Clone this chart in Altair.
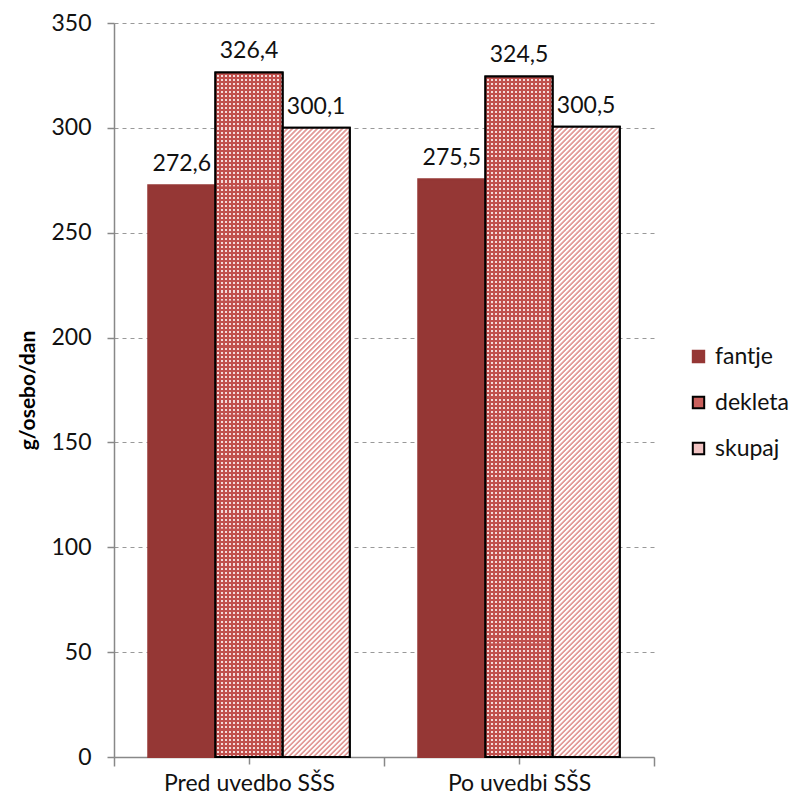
import altair as alt
import pandas as pd

categories = ["Pred uvedbo SŠS", "Po uvedbi SŠS"]
series = ["fantje", "dekleta", "skupaj"]
fantje = [272.6, 275.5]
dekleta = [326.4, 324.5]
skupaj = [300.1, 300.5]
y_ticks = [0, 50, 100, 150, 200, 250, 300, 350]

rows = []
for i, c in enumerate(categories):
    for s, vals in zip(series, [fantje, dekleta, skupaj]):
        rows.append({"cat": c, "series": s, "value": vals[i],
                     "label": f"{vals[i]:.1f}".replace(".", ",")})
df = pd.DataFrame(rows)

# split patterned bars into K equal stacked pieces (keeps gradients short)
K = 6
seg_rows = []
for r in rows:
    if r["series"] == "fantje":
        continue
    for j in range(K):
        seg_rows.append({"cat": r["cat"], "series": r["series"],
                         "y0": r["value"] * j / K, "y1": r["value"] * (j + 1) / K})
seg = pd.DataFrame(seg_rows)

W, H = 540, 734
YMAX = 350
OUTER = 0.51
FONT = "Lato"
FS = 23
step = W / 2 / (3 + 2 * OUTER)

RED_DARK = "#953735"
RED = "#C0504D"
PINK = "#E39C9A"


def stop_list(n, c1, c2, frac=0.5):
    stops = []
    for i in range(n):
        o0, o1, o2 = i / n, (i + frac) / n, (i + 1) / n
        stops += [{"offset": o0, "color": c1}, {"offset": o1, "color": c1},
                  {"offset": o1, "color": c2}, {"offset": min(o2, 1.0), "color": c2}]
    return stops


def soft_stop_list(n, c1, c2):
    stops = []
    for i in range(n):
        for f, c in [(0.0, c1), (0.3, c1), (0.5, c2), (0.8, c2)]:
            stops.append({"offset": (i + f) / n, "color": c})
    stops.append({"offset": 1.0, "color": c1})
    return stops


def diag_stripes(w, h, period, c1, c2):
    n = int((w + h) // period) + 1
    span = n * period
    k = span / (h * (1 + (w / h) ** 2))
    return {"gradient": "linear", "x1": 0, "y1": 0, "x2": k * w / h, "y2": k,
            "stops": soft_stop_list(n, c1, c2)}


def straight_stripes(n, c1, c2, vertical):
    return {"gradient": "linear", "x1": 0, "y1": 0,
            "x2": 1 if vertical else 0, "y2": 0 if vertical else 1,
            "stops": stop_list(n, c1, c2, 0.5)}


hs_sk = sum(skupaj) / len(skupaj) / YMAX * H / K
hs_dk = sum(dekleta) / len(dekleta) / YMAX * H / K

skupaj_fill = diag_stripes(step, hs_sk, 5.0, PINK, "#FFFFFF")
dots_v = straight_stripes(int(round(step / 4.0)), RED, "#F4DADA", True)
dots_h = straight_stripes(int(round(hs_dk / 4.0)), RED, "transparent", False)

x_scale = alt.Scale(domain=categories, paddingInner=0, paddingOuter=0)
xo_scale = alt.Scale(domain=series, paddingInner=0, paddingOuter=OUTER)
y_scale = alt.Scale(domain=[0, YMAX], nice=False)

x_axis = alt.Axis(title=None, orient="bottom", tickBand="extent", tickSize=9,
                  labelPadding=6, labelFontSize=FS, labelFont=FONT, labelColor="#111",
                  domainColor="#888", tickColor="#888", domainWidth=1.5, tickWidth=1.5,
                  labelAngle=0, grid=False)
x_axis2 = alt.Axis(title=None, orient="bottom", labels=False, domain=False, tickSize=7,
                   tickColor="#888", tickWidth=1.5, grid=False)
y_axis = alt.Axis(title="g/osebo/dan", values=y_ticks, tickSize=7, labelPadding=16,
                  labelFontSize=FS, labelFont=FONT, labelColor="#111",
                  titleFont=FONT, titleFontSize=21, titleFontWeight="bold",
                  titleColor="#000", titlePadding=12,
                  domainColor="#888", tickColor="#888", domainWidth=1.5, tickWidth=1.5,
                  grid=True, gridColor="#999", gridDash=[4, 4], gridWidth=1)

base = alt.Chart(df)
segbase = alt.Chart(seg)
X = alt.X("cat:N", scale=x_scale, sort=categories, axis=x_axis)
XN = alt.X("cat:N", scale=x_scale, sort=categories, axis=None)
XO = alt.XOffset("series:N", scale=xo_scale, sort=series)
Y = alt.Y("value:Q", scale=y_scale, axis=y_axis)
YS = alt.Y("y0:Q", scale=y_scale, axis=y_axis)

legend = alt.Legend(title=None, orient="none", legendX=573, legendY=322,
                    symbolType="square", symbolSize=130, symbolStrokeWidth=2,
                    labelFontSize=FS, labelFont=FONT, labelColor="#111",
                    rowPadding=22, labelOffset=5)

bars = base.mark_bar(strokeWidth=2).encode(
    x=X, xOffset=XO, y=Y,
    color=alt.Color("series:N", sort=series,
                    scale=alt.Scale(domain=series, range=[RED_DARK, "#C9605D", "#F1C3C2"]),
                    legend=legend),
    stroke=alt.Stroke("series:N", sort=series,
                      scale=alt.Scale(domain=series, range=[RED_DARK, "#000000", "#000000"]),
                      legend=legend),
)

sk = segbase.transform_filter(alt.datum.series == "skupaj").mark_bar(
    fill=skupaj_fill, strokeWidth=0
).encode(x=XN, xOffset=XO, y=YS, y2="y1:Q")

dk1 = segbase.transform_filter(alt.datum.series == "dekleta").mark_bar(
    fill=dots_v, strokeWidth=0
).encode(x=XN, xOffset=XO, y=YS, y2="y1:Q")

dk2 = segbase.transform_filter(alt.datum.series == "dekleta").mark_bar(
    fill=dots_h, strokeWidth=0
).encode(x=XN, xOffset=XO, y=YS, y2="y1:Q")

outline = base.transform_filter(alt.datum.series != "fantje").mark_bar(
    fillOpacity=0, stroke="#000", strokeWidth=2
).encode(x=XN, xOffset=XO, y=Y)

text = base.mark_text(dy=-9, baseline="bottom", fontSize=FS, font=FONT, color="#111").encode(
    x=alt.X("cat:N", scale=x_scale, sort=categories, axis=x_axis2),
    xOffset=XO, y=Y, text="label:N")

chart = alt.layer(bars, sk, dk1, dk2, outline, text).resolve_axis(x="independent").properties(
    width=W, height=H,
    autosize=alt.AutoSizeParams(type="none"),
    padding={"left": 106, "top": 15, "right": 140, "bottom": 37},
).configure_view(stroke=None)

chart.save("out.html", embed_options={"renderer": "svg", "actions": False})
